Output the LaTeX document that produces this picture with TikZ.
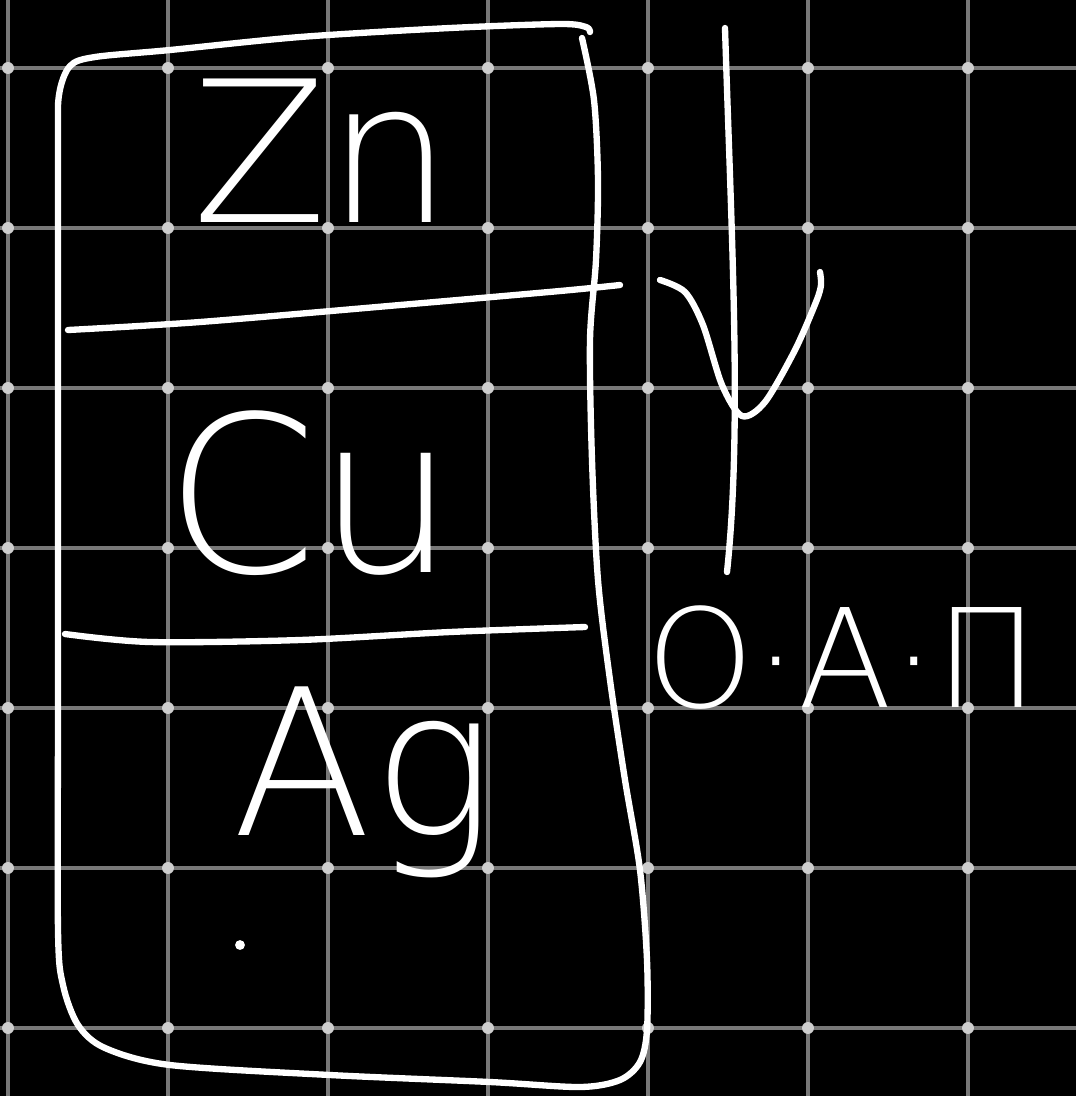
\documentclass[tikz,border=0pt]{standalone}
\usepackage{fontspec}
\IfFontExistsTF{DejaVu Sans ExtraLight}{\newfontfamily\handfont{DejaVu Sans ExtraLight}}{\newfontfamily\handfont{DejaVu Sans}}
\usetikzlibrary{calc,positioning}
\definecolor{gridgray}{RGB}{120,120,120}
\definecolor{dotgray}{RGB}{205,205,205}

\begin{document}
\begin{tikzpicture}[x=0.01cm,y=-0.01cm,
  ink/.style={draw=white,line width=1.8pt,line cap=round,line join=round},
  gridline/.style={draw=gridgray,line width=0.9pt},
  metal/.style={text=white,inner sep=0pt,anchor=base west}]
\fill[black] (0,0) rectangle (1076,1096);
\useasboundingbox (0,0) rectangle (1076,1096);
\foreach \k in {0,...,6} {
  \draw[gridline] (8+160*\k,0) -- (8+160*\k,1096);
  \draw[gridline] (0,68+160*\k) -- (1076,68+160*\k);
}
\foreach \i in {0,...,6} \foreach \j in {0,...,6}
  \fill[dotgray] (8+160*\i,68+160*\j) circle[radius=1.7pt];

\draw[ink] plot[smooth] coordinates {(582,38) (594,100) (598,180) (596,260)
  (590,340) (592,460) (598,580) (610,680) (625,780) (640,870) (647,960)
  (647,1030) (640,1062) (620,1080) (580,1087) (490,1082) (330,1075)
  (170,1065) (105,1048) (78,1025) (63,985) (58,930) (58,700) (58,400)
  (58,150) (59,95) (70,66) (95,57) (170,50) (300,37) (450,28) (560,24)
  (586,27) (590,32)};

\draw[ink] plot[smooth] coordinates {(68,330) (200,322) (400,305) (560,291) (620,285)};
\draw[ink] plot[smooth] coordinates {(65,634) (150,642) (300,640) (450,632) (585,627)};

\node[metal,font={\handfont\fontsize{56}{56}\selectfont}] (zn) at (192,222) {Zn};
\node[metal,font={\handfont\fontsize{62}{62}\selectfont}] (cu) at (165,572) {Cu};
\node[metal,font={\handfont\fontsize{58}{58}\selectfont}] (ag) at (232,835) {Ag};
\fill[white] (240,945) circle[radius=1.4pt];
\node[metal,font={\handfont\fontsize{39}{39}\selectfont}] (oap) at (646,707) {О·А·П};

\coordinate (atop) at (725,28);
\coordinate (abot) at (727,572);
\coordinate (tip) at (742,416);
\draw[ink] (atop) .. controls (732,250) and (742,430) .. (abot);
\draw[ink] plot[smooth] coordinates {(660,280) (685,292) (703,325) (722,385)
  (tip) (765,402) (795,350) (816,302) (821,285) (820,272)};
\end{tikzpicture}
\end{document}
